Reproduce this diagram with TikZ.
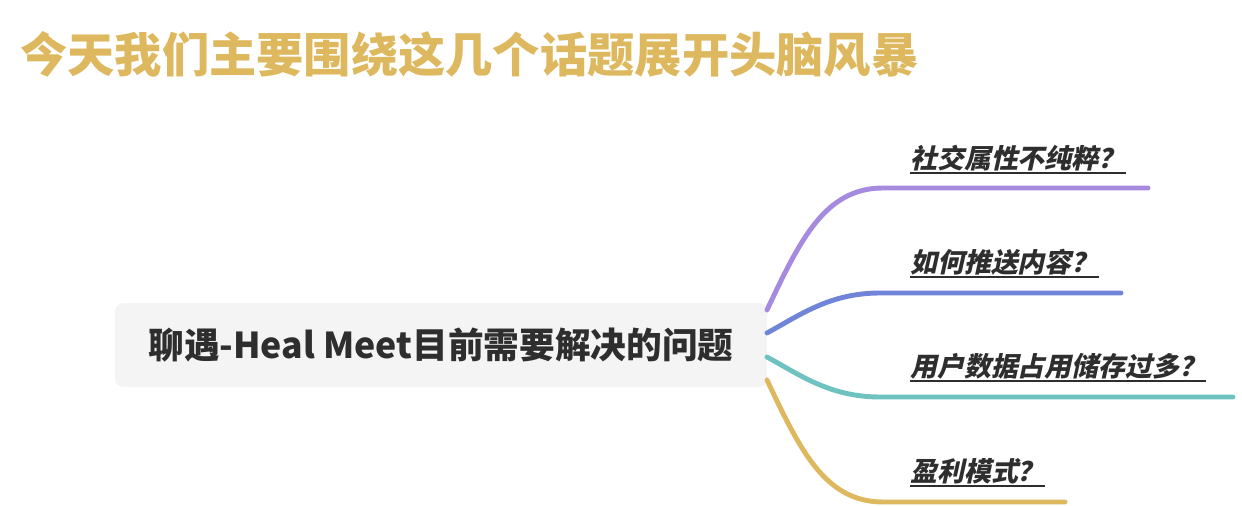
\documentclass[tikz,border=0pt]{standalone}
\usepackage{fontspec}
\usepackage{xcolor}
\newfontfamily\cjk{Noto Sans CJK SC}
\newfontfamily\cjkslant[FakeSlant=0.22]{Noto Sans CJK SC}
\definecolor{titlegold}{HTML}{DDB85E}
\definecolor{topicgray}{HTML}{F4F4F4}
\definecolor{inkdark}{HTML}{2E2E2E}
\definecolor{purp}{HTML}{A68ADF}
\definecolor{blu}{HTML}{7185D8}
\definecolor{teal2}{HTML}{6EC3C0}
\definecolor{gold2}{HTML}{DDB85E}

\begin{document}
\begin{tikzpicture}[x=0.02cm,y=-0.02cm,
  topic/.style={rectangle,rounded corners=0.16cm,fill=topicgray,minimum width=13.04cm,minimum height=1.68cm,font=\cjk\bfseries\fontsize{20.3pt}{24pt}\selectfont,text=inkdark},
  ask/.style={anchor=south west,inner xsep=0pt,inner ysep=1pt,font=\cjkslant\bfseries\fontsize{15.3pt}{18pt}\selectfont,text=inkdark},
  branch/.style={line width=2.8pt,line cap=round},
  uline/.style={line width=0.9pt,inkdark}]
  \useasboundingbox (0,0) rectangle (1242,506);
  \node[anchor=west,inner sep=0pt,text=titlegold,font=\cjk\bfseries\fontsize{26.9pt}{32pt}\selectfont] (title) at (20,54) {今天我们主要围绕这几个话题展开头脑风暴};
  \node[topic] (center) at (441,345) {聊遇-Heal Meet目前需要解决的问题};
  \coordinate (b1) at (767,310);
  \coordinate (b2) at (767,333);
  \coordinate (b3) at (767,357);
  \coordinate (b4) at (767,380);
  \coordinate (e1) at (1148,188);
  \coordinate (e2) at (1121,293);
  \coordinate (e3) at (1233,397);
  \coordinate (e4) at (1065,502);
  \draw[branch,purp] (b1) .. controls (800,240) and (825,188) .. (883,188) -- (e1);
  \draw[branch,blu] (b2) .. controls (800,315) and (830,293) .. (880,293) -- (e2);
  \draw[branch,teal2] (b3) .. controls (800,375) and (830,397) .. (880,397) -- (e3);
  \draw[branch,gold2] (b4) .. controls (800,450) and (825,502) .. (883,502) -- (e4);
  \node[ask] (q1) at (910,173) {社交属性不纯粹？\hspace{0.6em}};
  \node[ask] (q2) at (910,277) {如何推送内容？\hspace{0.6em}};
  \node[ask] (q3) at (910,381) {用户数据占用储存过多？\hspace{0.6em}};
  \node[ask] (q4) at (910,486) {盈利模式？\hspace{0.6em}};
  \foreach \q in {q1,q2,q3,q4}
    \draw[uline] (\q.south west) -- (\q.south east);
\end{tikzpicture}
\end{document}
